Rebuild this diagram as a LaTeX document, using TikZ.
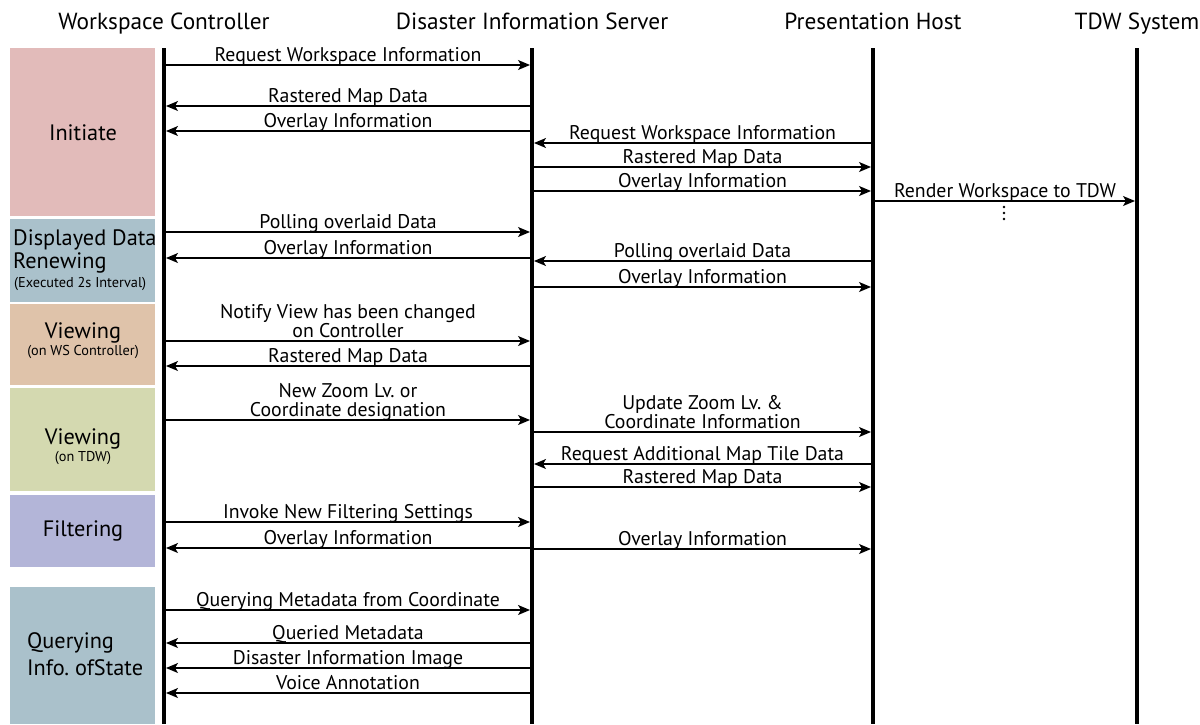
\documentclass[tikz,border=0pt]{standalone}
\usepackage{fontspec}
\setmainfont{PT Sans}
\usetikzlibrary{arrows.meta}
\frenchspacing

\definecolor{initc}{HTML}{E2BBBA}
\definecolor{renewc}{HTML}{AAC1CB}
\definecolor{viewwsc}{HTML}{DFC3AA}
\definecolor{viewtdwc}{HTML}{D4D9B0}
\definecolor{filterc}{HTML}{B3B5D8}
\definecolor{queryc}{HTML}{AAC1CB}

\tikzset{
  lifeline/.style={line width=4pt},
  msg/.style={line width=1.3pt, shorten >=2pt, shorten <=2pt,
    -{Stealth[length=12pt,width=10pt,inset=3pt]}},
  lbl/.style={font=\fontsize{19.8}{18.5}\selectfont, anchor=base, inner sep=0pt,
    align=center, yshift=4pt},
  head/.style={font=\fontsize{23.3}{24}\selectfont, anchor=base, inner sep=0pt},
  phase/.style={anchor=north west, inner sep=0pt, minimum width=145pt},
  phasetext/.style={inner sep=0pt, font=\fontsize{22.3}{18}\selectfont},
  subtext/.style={inner sep=0pt, font=\fontsize{14.3}{15}\selectfont},
  dot/.style={fill, circle, inner sep=0pt, minimum size=2.8pt},
}

% one message: from, to, y, label name, label text
\newcommand{\seqmsg}[5]{%
  \draw[msg] (#1 |- 0,#3) -- node[lbl] (#4) {#5} (#2 |- 0,#3);}

\begin{document}
\begin{tikzpicture}[x=1pt,y=-1pt]
\useasboundingbox (0,0) rectangle (1200,724);

% participants
\coordinate (wc)  at (164,48);
\coordinate (dis) at (532,48);
\coordinate (ph)  at (873,48);
\coordinate (tdw) at (1137,48);

\node[head] (hwc)  at (164,29)  {Workspace Controller};
\node[head] (hdis) at (532,29)  {Disaster Information Server};
\node[head] (hph)  at (873,29)  {Presentation Host};
\node[head] (htdw) at (1137,29) {TDW System};

% phase bands
\node[phase, fill=initc,    minimum height=168pt] (pinit)    at (10,48)  {};
\node[phase, fill=renewc,   minimum height=83pt]  (prenew)   at (10,219) {};
\node[phase, fill=viewwsc,  minimum height=81pt]  (pviewws)  at (10,304) {};
\node[phase, fill=viewtdwc, minimum height=103pt] (pviewtdw) at (10,388) {};
\node[phase, fill=filterc,  minimum height=72pt]  (pfilter)  at (10,495) {};
\node[phase, fill=queryc,   minimum height=137pt] (pquery)   at (10,587) {};

% phase names
\node[phasetext] (tinit) at (83,133) {Initiate};
\node[phasetext, anchor=west] (trenew1) at (13,240) {Displayed Data};
\node[phasetext, anchor=west] (trenew2) at (13,263) {Renewing};
\node[subtext, anchor=west] (trenew3) at (14,284) {(Executed 2s Interval)};
\node[phasetext] (tviewws) at (83,333) {Viewing};
\node[subtext] (tviewwssub) at (83,352) {(on WS Controller)};
\node[phasetext] (tviewtdw) at (83,439) {Viewing};
\node[subtext] (tviewtdwsub) at (83,458) {(on TDW)};
\node[phasetext] (tfilter) at (83,531) {Filtering};
\node[phasetext, anchor=west] (tquery1) at (27,643) {Querying};
\node[phasetext, anchor=west] (tquery2) at (27,668) {Info. ofState};

% lifelines
\draw[lifeline] (wc)  -- (wc  |- 0,724);
\draw[lifeline] (dis) -- (dis |- 0,724);
\draw[lifeline] (ph)  -- (ph  |- 0,724);
\draw[lifeline] (tdw) -- (tdw |- 0,724);

% initiate
\seqmsg{wc}{dis}{65}{m1}{Request Workspace Information}
\seqmsg{dis}{wc}{106}{m2}{Rastered Map Data}
\seqmsg{dis}{wc}{131}{m3}{Overlay Information}
\seqmsg{ph}{dis}{143}{m4}{Request Workspace Information}
\seqmsg{dis}{ph}{167}{m5}{Rastered Map Data}
\seqmsg{dis}{ph}{191}{m6}{Overlay Information}
\seqmsg{ph}{tdw}{201}{m7}{Render Workspace to TDW}
% continuation marks below the render message
\node[dot] (d1) at (1004,207) {};
\node[dot] (d2) at (1004,213) {};
\node[dot] (d3) at (1004,219) {};

% displayed data renewing
\seqmsg{wc}{dis}{232}{m8}{Polling overlaid Data}
\seqmsg{dis}{wc}{258}{m9}{Overlay Information}
\seqmsg{ph}{dis}{261}{m10}{Polling overlaid Data}
\seqmsg{dis}{ph}{287}{m11}{Overlay Information}

% viewing on the controller
\seqmsg{wc}{dis}{341}{m12}{Notify View has been changed\\on Controller}
\seqmsg{dis}{wc}{366}{m13}{Rastered Map Data}

% viewing on the TDW
\seqmsg{wc}{dis}{420}{m14}{New Zoom Lv. or\\Coordinate designation}
\seqmsg{dis}{ph}{432}{m15}{Update Zoom Lv. \&\\Coordinate Information}
\seqmsg{ph}{dis}{464}{m16}{Request Additional Map Tile Data}
\seqmsg{dis}{ph}{487}{m17}{Rastered Map Data}

% filtering
\seqmsg{wc}{dis}{522}{m18}{Invoke New Filtering Settings}
\seqmsg{dis}{wc}{548}{m19}{Overlay Information}
\seqmsg{dis}{ph}{549}{m20}{Overlay Information}

% querying
\seqmsg{wc}{dis}{610}{m21}{Querying Metadata from Coordinate}
\seqmsg{dis}{wc}{643}{m22}{Queried Metadata}
\seqmsg{dis}{wc}{668}{m23}{Disaster Information Image}
\seqmsg{dis}{wc}{693}{m24}{Voice Annotation}
\end{tikzpicture}
\end{document}
